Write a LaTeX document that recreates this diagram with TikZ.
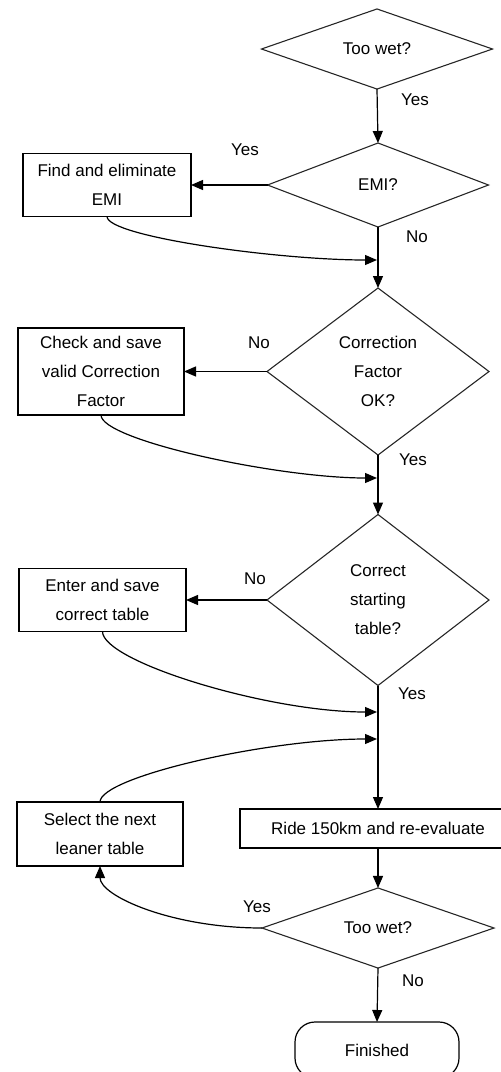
\documentclass[tikz,border=0pt]{standalone}
\usepackage{fontspec}
\setmainfont{Liberation Sans}
\usetikzlibrary{shapes.geometric}
\usetikzlibrary{arrows.meta}
\tikzset{every node/.style={font=\fontsize{17}{29}\selectfont}}
\tikzset{
  dec/.style={draw=black!85,line width=1.1pt,shape=diamond,inner sep=0pt,outer sep=0pt,align=center},
  proc/.style={draw,line width=1.2pt,inner sep=0pt,outer sep=0pt,align=center},
  term/.style={draw,line width=1.2pt,rounded corners=20pt,inner sep=0pt,outer sep=0pt},
  lbl/.style={inner sep=0pt},
  flow/.style={line width=1.2pt,-{Triangle[length=12pt,width=10pt]}},
}

\begin{document}
\begin{tikzpicture}[x=1pt,y=-1pt]
\useasboundingbox (0,0) rectangle (501,1072);
\clip (0,0) rectangle (501,1072);
% main column
\node[dec,minimum width=231pt,minimum height=80pt] (wet1) at (377,49) {Too wet?};
\node[dec,minimum width=221pt,minimum height=84pt] (emi) at (378,185) {EMI?};
\node[dec,minimum width=222pt,minimum height=167pt] (cf) at (378,371.5) {Correction\\Factor\\OK?};
\node[dec,minimum width=222pt,minimum height=171pt] (tab) at (378,600) {Correct\\starting\\table?};
\node[proc,minimum width=276pt,minimum height=39pt] (ride) at (378,828.5) {Ride 150km and re-evaluate};
\node[dec,minimum width=232pt,minimum height=80pt] (wet2) at (378,928) {Too wet?};
\node[term,minimum width=164pt,minimum height=56pt] (fin) at (377,1050) {Finished};
% side boxes
\node[proc,minimum width=168pt,minimum height=63pt] (fixemi) at (107,185) {Find and eliminate\\EMI};
\node[proc,minimum width=166pt,minimum height=87pt] (savecf) at (101,371.5) {Check and save\\valid Correction\\Factor};
\node[proc,minimum width=167pt,minimum height=63pt] (savetab) at (102.5,600) {Enter and save\\correct table};
\node[proc,minimum width=166pt,minimum height=64pt] (lean) at (100,834) {Select the next\\leaner table};
% joins on the main line
\coordinate (j1) at (377,260);
\coordinate (j2) at (377,478);
\coordinate (j3) at (377,712);
\coordinate (j4) at (377,739);
% labels
\node[lbl] (l1) at (415,100) {Yes};
\node[lbl] (l2) at (245,150) {Yes};
\node[lbl] (l3) at (417,237) {No};
\node[lbl] (l4) at (259,343) {No};
\node[lbl] (l5) at (413,460) {Yes};
\node[lbl] (l6) at (255,579) {No};
\node[lbl] (l7) at (412,694) {Yes};
\node[lbl] (l8) at (257,907) {Yes};
\node[lbl] (l9) at (413,981) {No};

\draw[flow] (wet1.south) -- (emi.north);
\draw[flow] (emi.south) -- (cf.north);
\draw[flow] (cf.south) -- (tab.north);
\draw[flow] (tab.south) -- (ride.north);
\draw[flow] (ride.south) -- (wet2.north);
\draw[flow] (wet2.south) -- (fin.north);
\draw[flow] (emi.west) -- (fixemi.east);
\draw[flow] (cf.west) -- (savecf.east);
\draw[flow] (tab.west) -- (savetab.east);
\draw[flow] (fixemi.south) .. controls +(0,20) and +(-100,0) .. (j1);
\draw[flow] (savecf.south) .. controls +(0,25) and +(-100,0) .. (j2);
\draw[flow] (savetab.south) .. controls +(0,30) and +(-110,0) .. (j3);
\draw[flow] (lean.north) .. controls +(0,-25) and +(-110,0) .. (j4);
\draw[flow] (wet2.west) .. controls +(-90,0) and +(0,30) .. (lean.south);
\end{tikzpicture}
\end{document}
